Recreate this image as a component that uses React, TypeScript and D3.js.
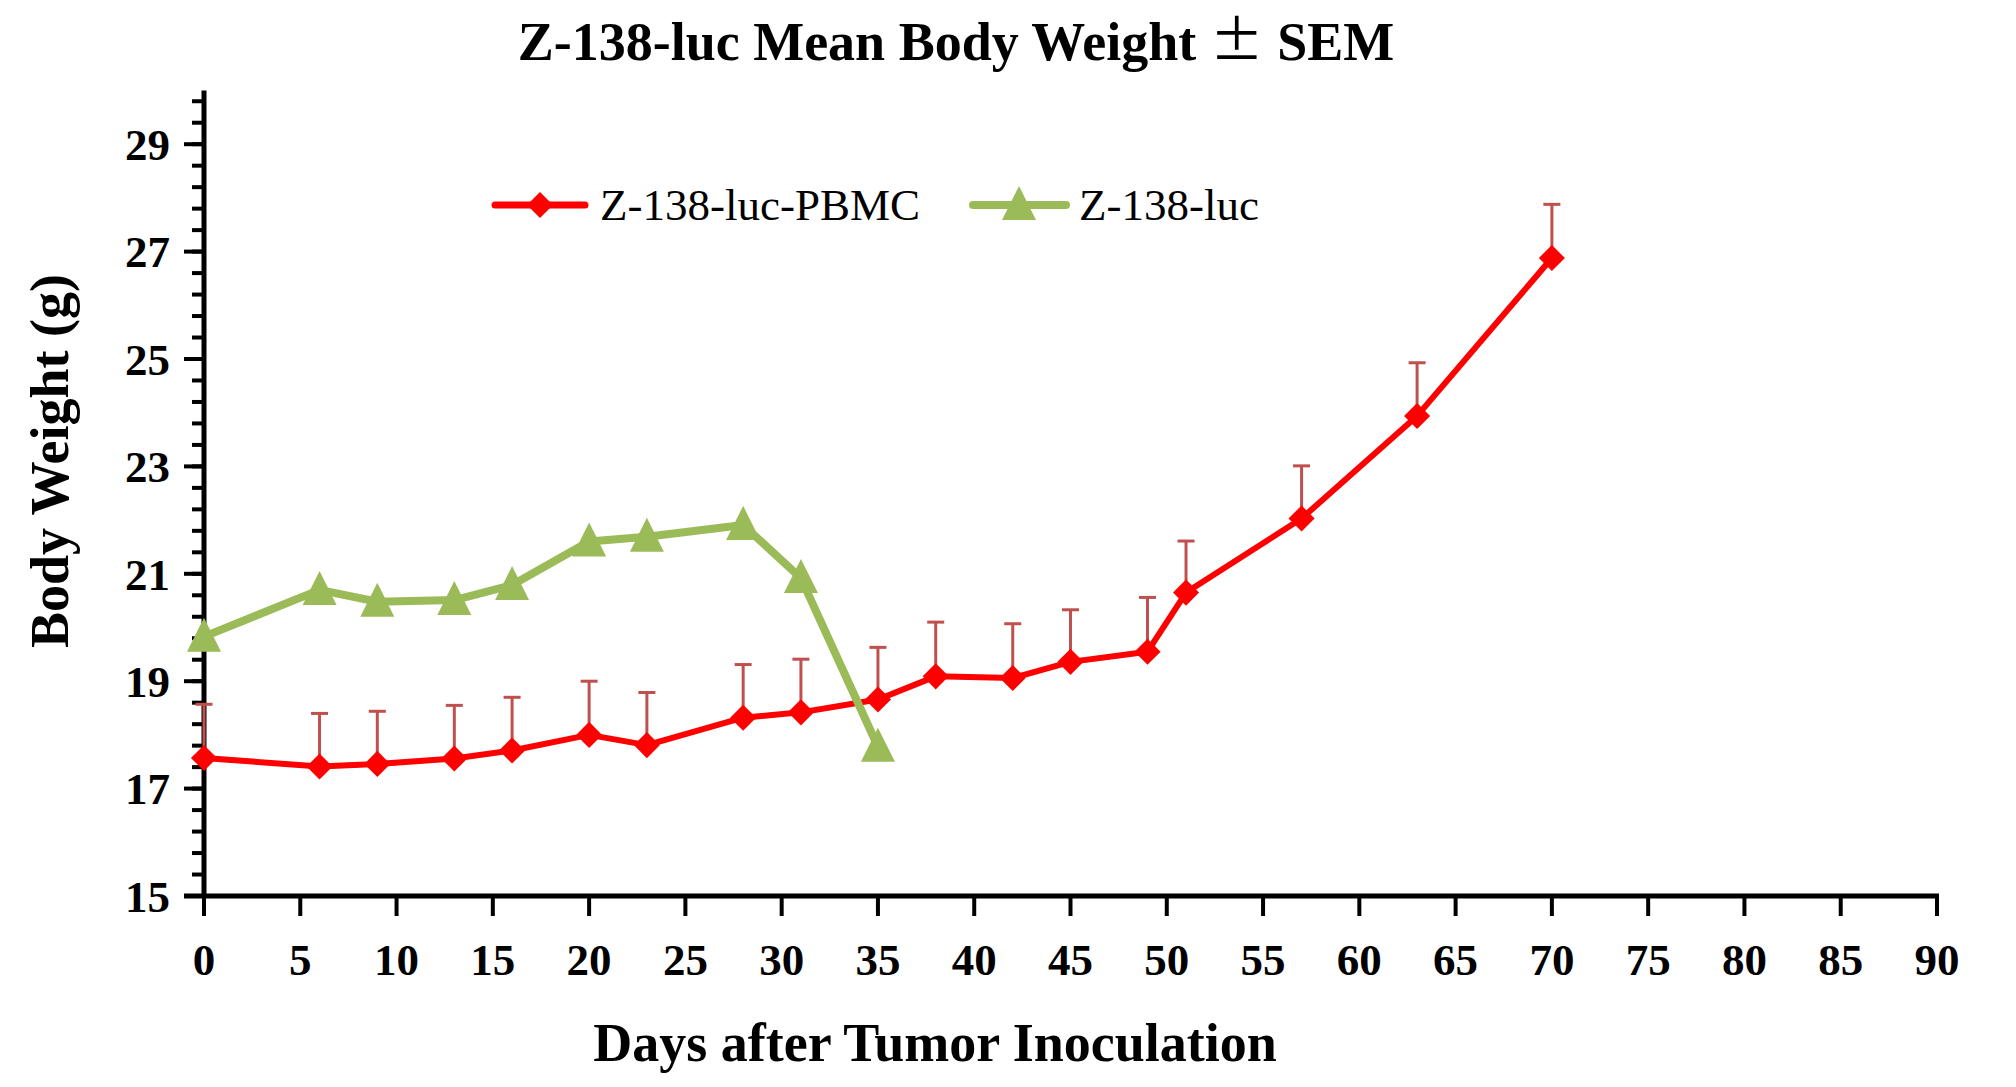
import React from "react"
import { scaleLinear, line, range, symbol, symbolSquare } from "d3"

// data
const pbmcDays = [0, 6, 9, 13, 16, 20, 23, 28, 31, 35, 38, 42, 45, 49, 51, 57, 63, 70]
const pbmcMean = [
  17.57, 17.41, 17.46, 17.56, 17.71, 18.0, 17.81, 18.32, 18.42, 18.66, 19.09, 19.06,
  19.36, 19.55, 20.65, 22.03, 23.94, 26.88,
]
const pbmcSem = [
  1.0, 0.99, 0.98, 0.99, 0.99, 1.0, 0.98, 0.99, 0.99, 0.97, 1.01, 1.01, 0.97, 1.01, 0.96,
  0.98, 0.99, 1.0,
]
const lucDays = [0, 6, 9, 13, 16, 20, 23, 28, 31, 35]
const lucMean = [19.83, 20.7, 20.48, 20.51, 20.79, 21.6, 21.69, 21.91, 20.92, 17.78]

const xTickValues = range(0, 91, 5)
const yTickValues = range(15, 30, 2)
const yMinorValues = range(0, 38).map((i) => 15 + i * 0.4)

const seriesNames = ["Z-138-luc-PBMC", "Z-138-luc"]
const titleText = "Z-138-luc Mean Body Weight"
const xTitle = "Days after Tumor Inoculation"
const yTitle = "Body Weight (g)"

const RED = "#FF0000"
const GREEN = "#9BBB59"
const ERR = "#C0504D"
const FONT = "'Liberation Serif', 'Times New Roman', serif"

type P = { x: number; y: number }

const App = () => {
  const width = 2016
  const height = 1087
  const x0 = 204
  const y0 = 896

  const xScale = scaleLinear().domain([0, 90]).range([x0, 1937])
  const yScale = scaleLinear().domain([15, 30]).range([y0, 90.5])

  const pbmc: P[] = pbmcDays.map((d, i) => ({ x: d, y: pbmcMean[i] }))
  const luc: P[] = lucDays.map((d, i) => ({ x: d, y: lucMean[i] }))

  const lineGen = line<P>()
    .x((d) => xScale(d.x))
    .y((d) => yScale(d.y))

  const diamond = symbol(symbolSquare, 340)()
  const triangle = "M0,-19L17,15L-17,15Z"

  return (
    <svg
      width={width}
      height={height}
      style={{ position: "absolute", left: 0, top: 0, background: "#fff" }}
      fontFamily={FONT}
    >
      {/* title */}
      <text x={956} y={60} textAnchor="middle" fontSize={54} fontWeight="bold">
        {titleText + " "}
        <tspan fontWeight="normal" fontFamily="'Noto Sans CJK SC', sans-serif">
          {"\u00B1"}
        </tspan>
        {" SEM"}
      </text>

      {/* y axis */}
      {yMinorValues.map((v) => (
        <line key={"m" + v} x1={x0 - 12} x2={x0} y1={yScale(v)} y2={yScale(v)} stroke="#000" strokeWidth={4} />
      ))}
      {yTickValues.map((v) => (
        <g key={"y" + v}>
          <line x1={x0 - 20} x2={x0} y1={yScale(v)} y2={yScale(v)} stroke="#000" strokeWidth={4} />
          <text x={170} y={yScale(v)} dy="0.35em" textAnchor="end" fontSize={45} fontWeight="bold">
            {v}
          </text>
        </g>
      ))}
      <line x1={x0} x2={x0} y1={yScale(30)} y2={y0 + 2} stroke="#000" strokeWidth={5} />

      {/* x axis */}
      {xTickValues.map((v) => (
        <g key={"x" + v}>
          <line x1={xScale(v)} x2={xScale(v)} y1={y0} y2={y0 + 20} stroke="#000" strokeWidth={4} />
          <text x={xScale(v)} y={975} textAnchor="middle" fontSize={45} fontWeight="bold">
            {v}
          </text>
        </g>
      ))}
      <line x1={x0 - 20} x2={xScale(90) + 2} y1={y0} y2={y0} stroke="#000" strokeWidth={5} />

      {/* axis titles */}
      <text x={935} y={1061} textAnchor="middle" fontSize={54} fontWeight="bold">
        {xTitle}
      </text>
      <text transform="translate(68,461) rotate(-90)" textAnchor="middle" fontSize={54} fontWeight="bold">
        {yTitle}
      </text>

      {/* error bars */}
      {pbmc.map((d, i) => {
        const cx = xScale(d.x)
        const top = yScale(d.y + pbmcSem[i])
        return (
          <g key={"e" + i} stroke={ERR} strokeWidth={3}>
            <line x1={cx} x2={cx} y1={yScale(d.y)} y2={top} />
            <line x1={cx - 8.5} x2={cx + 8.5} y1={top} y2={top} />
          </g>
        )
      })}

      {/* PBMC series */}
      <path d={lineGen(pbmc) ?? ""} fill="none" stroke={RED} strokeWidth={6} strokeLinejoin="round" />
      {pbmc.map((d, i) => (
        <path
          key={"d" + i}
          d={diamond ?? ""}
          fill={RED}
          transform={`translate(${xScale(d.x)},${yScale(d.y)}) rotate(45)`}
        />
      ))}

      {/* luc series */}
      <path d={lineGen(luc) ?? ""} fill="none" stroke={GREEN} strokeWidth={8} strokeLinejoin="round" />
      {luc.map((d, i) => (
        <path key={"t" + i} d={triangle} fill={GREEN} transform={`translate(${xScale(d.x)},${yScale(d.y)})`} />
      ))}

      {/* legend */}
      <line x1={495} x2={585} y1={205} y2={205} stroke={RED} strokeWidth={7} strokeLinecap="round" />
      <path d={diamond ?? ""} fill={RED} transform="translate(540,205) rotate(45)" />
      <text x={600} y={220} fontSize={45}>
        {seriesNames[0]}
      </text>
      <line x1={973} x2={1066} y1={205} y2={205} stroke={GREEN} strokeWidth={8} strokeLinecap="round" />
      <path d={triangle} fill={GREEN} transform="translate(1019,205)" />
      <text x={1079} y={220} fontSize={45}>
        {seriesNames[1]}
      </text>
    </svg>
  )
}

export default App
